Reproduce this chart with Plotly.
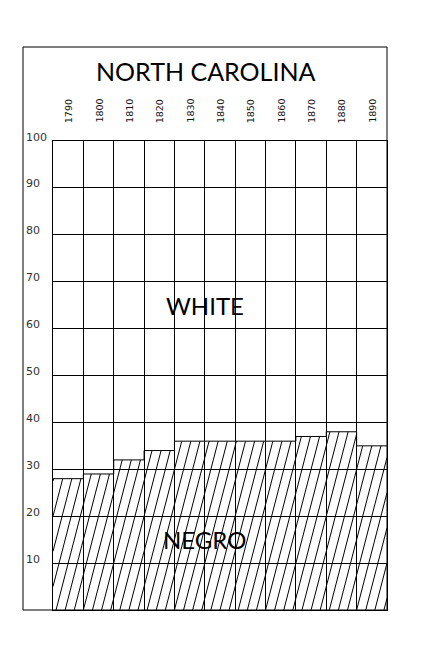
import numpy as np
import plotly.graph_objects as go

# ---- data ----
years = [1790, 1800, 1810, 1820, 1830, 1840, 1850, 1860, 1870, 1880, 1890]
negro_pct = [28, 29, 32, 34, 36, 36, 36, 36, 37, 38, 35]
y_ticks = [10, 20, 30, 40, 50, 60, 70, 80, 90, 100]
title_text = "NORTH CAROLINA"
label_white = "WHITE"
label_negro = "NEGRO"

# ---- geometry (pixels) ----
W, H = 425, 648
L, R, T, B = 53, 38, 141, 38
pw = W - L - R
ph = H - T - B
n = len(years)

# hatch style
slope = 25.0    # data-y per data-x
spacing = 0.30  # data-x between hatch lines

hx, hy = [], []
offsets = np.arange(-100 / slope - 1, n + 1, spacing)
for i, v in enumerate(negro_pct):
    for c in offsets:
        y_lo = max(0.0, (i - c) * slope)
        y_hi = min(float(v), (i + 1 - c) * slope)
        if y_hi - y_lo > 1e-6:
            hx += [c + y_lo / slope, c + y_hi / slope, None]
            hy += [y_lo, y_hi, None]

# step outline of the negro area (top edges)
step_x = list(range(n + 1))
step_y = negro_pct + [negro_pct[-1]]

fig = go.Figure()
fig.add_trace(go.Scatter(x=hx, y=hy, mode="lines",
                         line=dict(color="black", width=1),
                         hoverinfo="skip", showlegend=False))
fig.add_trace(go.Scatter(x=step_x, y=step_y, mode="lines", line_shape="hv",
                         line=dict(color="black", width=1),
                         hoverinfo="skip", showlegend=False))

fig.update_xaxes(range=[0, n], tickvals=list(range(n + 1)), showticklabels=False,
                 showgrid=True, gridcolor="black", gridwidth=1, zeroline=False,
                 showline=True, mirror=True, linecolor="black", linewidth=1, ticks="")
fig.update_yaxes(range=[0, 100], tickvals=[0] + y_ticks, showticklabels=False,
                 showgrid=True, gridcolor="black", gridwidth=1, zeroline=False,
                 showline=True, mirror=True, linecolor="black", linewidth=1, ticks="")

centers = [i + 0.5 for i in range(n)]
ann = []
for c, yr in zip(centers, years):
    ann.append(dict(x=c, y=1, xref="x", yref="paper", text=str(yr), textangle=-90,
                    showarrow=False, xanchor="center", yanchor="bottom", yshift=16,
                    font=dict(family="DejaVu Sans", size=9.5, color="#111")))
for t in y_ticks:
    ann.append(dict(x=(24 - L) / pw, y=t, xref="paper", yref="y", text=str(t),
                    showarrow=False, xanchor="left", yanchor="middle", yshift=4,
                    font=dict(family="DejaVu Sans", size=11, color="#333")))
ann.append(dict(x=(205 - L) / pw, y=(H - B - 71) / ph, xref="paper", yref="paper",
                text=title_text, showarrow=False, xanchor="center", yanchor="middle",
                font=dict(family="Lato", size=25, color="black")))
ann.append(dict(x=5.0, y=65.0, xref="x", yref="y", text=label_white, showarrow=False,
                xanchor="center", yanchor="middle",
                font=dict(family="Lato", size=24, color="black")))
ann.append(dict(x=5.0, y=15.1, xref="x", yref="y", text=label_negro, showarrow=False,
                xanchor="center", yanchor="middle",
                font=dict(family="Lato", size=24, color="black")))

fig.update_layout(
    width=W, height=H,
    margin=dict(l=L, r=R, t=T, b=B, pad=0),
    paper_bgcolor="white", plot_bgcolor="white",
    annotations=ann,
    shapes=[dict(type="rect", xref="paper", yref="paper",
                 x0=(23 - L) / pw, x1=1, y0=0, y1=(H - B - 47) / ph,
                 line=dict(color="black", width=1), layer="above")],
)

fig.write_html("out.html")
